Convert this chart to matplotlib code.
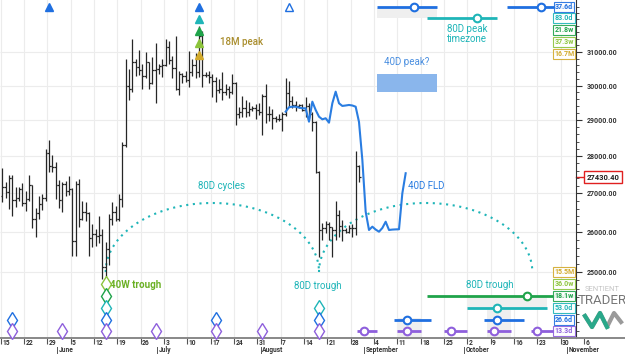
import matplotlib
matplotlib.use("Agg")
import numpy as np
import pandas as pd
import matplotlib.pyplot as plt
import matplotlib.dates as mdates
import matplotlib.transforms as mtransforms
from matplotlib.ticker import FixedLocator, NullFormatter
from matplotlib.patches import Rectangle

plt.rcParams['font.family'] = ['Roboto', 'DejaVu Sans']

# daily OHLC, 2023-05-15 .. 2023-08-30
start = "2023-05-15"
opens = [26920, 27170, 27030, 27400, 26830, 26890, 27120, 26750, 26850, 27230,
         26330, 26480, 26720, 26870, 28090, 27740, 27700, 27220, 26820, 27250,
         27070, 27120, 25760, 27240, 26340, 26500, 26480, 25850, 25940, 25900,
         25920, 25120, 25580, 26330, 26510, 26340, 26850, 28310, 30000, 29890,
         30690, 30550, 30470, 30270, 30700, 30080, 30450, 30480, 30590, 30620,
         31160, 30770, 30510, 29900, 30350, 30290, 30170, 30410, 30620, 30390,
         31480, 30320, 30300, 30250, 30140, 29860, 29910, 29800, 29910, 29800,
         30080, 29180, 29230, 29350, 29220, 29320, 29350, 29280, 29230, 29700,
         29180, 29180, 29070, 29040, 29040, 29180, 29770, 29560, 29430, 29400,
         29420, 29280, 29410, 29170, 28950, 27580, 26050, 26100, 26190, 26120,
         26040, 26430, 26160, 26050, 26010, 26090, 26100, 27720]
highs = [27670, 27290, 27480, 27480, 27180, 27160, 27270, 27050, 27480, 27230,
         26620, 26930, 26990, 28200, 28440, 28030, 27830, 27350, 27300, 27330,
         27450, 27130, 27340, 27390, 26790, 26780, 26520, 26200, 26080, 26400,
         26080, 25740, 26470, 26770, 26680, 26980, 28400, 30800, 30500, 31400,
         30780, 31050, 30650, 31000, 30710, 30840, 31280, 30650, 30790, 31380,
         31320, 30880, 31500, 30440, 30380, 30430, 31030, 30800, 30970, 31800,
         31640, 30390, 30440, 30330, 30240, 30190, 30410, 30050, 29990, 30340,
         30100, 29380, 29690, 29570, 29530, 29410, 29450, 29500, 29740, 30050,
         29410, 29310, 29120, 29170, 29230, 30220, 30130, 29700, 29540, 29470,
         29450, 29670, 29480, 29230, 28980, 27600, 26240, 26290, 26250, 26130,
         26800, 26560, 26310, 26100, 26170, 26210, 28140, 27760]
lows = [26760, 26870, 26590, 26400, 26650, 26800, 26660, 26540, 26800, 26090,
        25870, 26330, 26570, 26800, 27570, 27580, 26850, 26610, 26520, 26920,
        26960, 25400, 25400, 26120, 26310, 26290, 25390, 25620, 25650, 25730,
        24830, 24780, 25170, 26170, 26290, 26270, 26640, 28260, 29570, 29810,
        30270, 30300, 29900, 30230, 29900, 30050, 29500, 30330, 30250, 30590,
        30640, 30220, 29860, 29720, 30060, 30090, 29960, 30290, 30210, 30260,
        29950, 30250, 30080, 29660, 29520, 29770, 29570, 29730, 29640, 29740,
        28870, 29060, 29100, 29090, 29130, 29260, 29040, 29150, 28590, 28930,
        28970, 28750, 28960, 28980, 28700, 29110, 29370, 29340, 29260, 29360,
        29250, 29100, 29070, 28700, 27550, 25370, 25790, 25970, 25800, 25370,
        25800, 25860, 25780, 25970, 25970, 25880, 25920, 27300]
closes = [27170, 27030, 27400, 26830, 26890, 27120, 26750, 26850, 27230, 26330,
          26480, 26720, 26870, 28090, 27740, 27700, 27220, 26820, 27250, 27070,
          27120, 25760, 27240, 26340, 26500, 26480, 25850, 25940, 25900, 25920,
          25120, 25580, 26330, 26510, 26340, 26850, 28310, 30000, 29890, 30690,
          30550, 30470, 30270, 30700, 30080, 30450, 30480, 30590, 30620, 31160,
          30770, 30510, 29900, 30350, 30290, 30170, 30410, 30620, 30390, 31480,
          30320, 30300, 30250, 30140, 29860, 29910, 29800, 29910, 29800, 30080,
          29180, 29230, 29350, 29220, 29320, 29350, 29280, 29230, 29700, 29180,
          29180, 29070, 29040, 29040, 29180, 29770, 29560, 29430, 29400, 29420,
          29280, 29410, 29170, 28950, 27580, 26050, 26100, 26190, 26120, 26040,
          26430, 26160, 26050, 26010, 26090, 26100, 27720, 27430.40]

# 40 day FLD, daily from 2023-08-08
fld_start = "2023-08-08"
fld_values = [29243, 29369, 29385, 29385, 29360, 29340, 29340, 28958, 29530, 29292,
              29100, 29025, 29055, 28930, 29484, 29820, 29484, 29407, 29420, 29435,
              29420, 29385, 28950, 27900, 26520, 26050, 26134, 26060, 26006, 26100,
              26261, 26050, 26060, 26065, 26068, 27000, 27535]

# cycle peaks (top triangles) and troughs (bottom diamonds)
peaks_18m = ["2023-07-13"]
peaks_40w = ["2023-07-13"]
peaks_20w = ["2023-07-13"]
peaks_80d = ["2023-07-13"]
peaks_40d = ["2023-05-29", "2023-07-13"]
peaks_40d_open = ["2023-08-09"]
troughs_40w = ["2023-06-15"]
troughs_20w = ["2023-06-15"]
troughs_80d = ["2023-06-15", "2023-08-18"]
troughs_40d = ["2023-05-18", "2023-06-15", "2023-07-18", "2023-08-18"]
troughs_20d = ["2023-05-18", "2023-06-02", "2023-06-15", "2023-06-30",
               "2023-07-18", "2023-08-01", "2023-08-18"]
arc_troughs = ["2023-06-15", "2023-08-18", "2023-10-21"]

# projected timing bands: (start, end, centre)
top_40d = [("2023-09-05", "2023-09-23", "2023-09-16"), ("2023-10-14", "2023-11-03", "2023-10-24")]
top_80d = [("2023-09-20", "2023-10-11", "2023-10-05")]
bot_20w = [("2023-09-20", "2023-11-03", "2023-10-20")]
bot_80d = [("2023-10-02", "2023-10-26", "2023-10-11")]
bot_40d = [("2023-09-10", "2023-09-21", "2023-09-14"), ("2023-10-07", "2023-10-19", "2023-10-11")]
bot_20d = [("2023-08-30", "2023-09-05", "2023-09-01"), ("2023-09-11", "2023-09-18", "2023-09-14"),
           ("2023-09-25", "2023-10-02", "2023-09-27"), ("2023-10-08", "2023-10-15", "2023-10-10"),
           ("2023-10-21", "2023-10-28", "2023-10-23")]

top_labels = ["37.6d", "83.0d", "21.8w", "37.3w", "16.7M"]
bot_labels = ["15.5M", "36.0w", "18.1w", "53.0d", "26.6d", "13.3d"]
price_ticks = [25000, 26000, 27000, 28000, 29000, 30000, 31000]

BLUE = "#1f6fe0"
TEAL = "#1fb5b8"
GREEN = "#1fa34a"
LGREEN = "#8cc43c"
GOLD = "#d2aa2c"
PURPLE = "#8e5fdc"
H = 338.0


def dn(s):
    return mdates.date2num(pd.Timestamp(s))


def ry(px):
    return 1 - px / H


fig = plt.figure(figsize=(6.25, 3.54), dpi=100)
ax = fig.add_axes([0, 16 / 354, 1, H / 354])
ax.set_yscale("log")
ax.set_ylim(23440, 32615)
x0 = dn(start)
ax.set_xlim(x0 - 0.2, x0 + 187.3)
spine_x = 576 / 625
bt = mtransforms.blended_transform_factory(ax.transData, ax.transAxes)

for s in ["left", "top"]:
    ax.spines[s].set_visible(False)
ax.spines["right"].set_position(("axes", spine_x))
ax.spines["right"].set_color("#333333")
ax.spines["right"].set_linewidth(0.8)
ax.spines["bottom"].set_color("#888888")
ax.spines["bottom"].set_linewidth(1.4)

# grid
weeks = pd.date_range(start, "2023-11-06", freq="7D")
for w in weeks:
    if dn(w) < ax.get_xlim()[0] + spine_x * 187.5:
        ax.axvline(dn(w), color="#ececec", lw=0.8, zorder=0)
ax.hlines(price_ticks, ax.get_xlim()[0], ax.get_xlim()[0] + spine_x * 187.5,
          color="#ececec", lw=0.8, zorder=0)

# y axis on the moved right spine
ax.yaxis.tick_right()
ax.yaxis.set_major_locator(FixedLocator(price_ticks))
minor = [v for v in range(23600, 32600, 200) if v not in price_ticks]
ax.yaxis.set_minor_locator(FixedLocator(minor))
ax.yaxis.set_minor_formatter(NullFormatter())
ax.set_yticklabels(["%.2f" % v for v in price_ticks])
ax.tick_params(axis="y", which="major", length=4, width=0.8, pad=4, labelsize=5,
               colors="#333333")
ax.tick_params(axis="y", which="minor", length=2.5, width=0.6, colors="#333333")
for lab in ax.get_yticklabels():
    lab.set_fontweight("bold")

# x axis ticks: day numbers on one row, month names below
ax.set_xticks([dn(w) for w in weeks])
ax.set_xticklabels([])
ax.tick_params(axis="x", length=4, width=0.8, colors="#555555")
for w in weeks:
    ax.text(dn(w) + 0.4, ry(339), str(w.day), transform=bt, fontsize=4.8, color="#333333",
            ha="left", va="top", fontweight="bold")
for m in pd.date_range("2023-06-01", "2023-11-01", freq="MS"):
    ax.plot([dn(m), dn(m)], [ry(346.5), ry(352.5)], transform=bt, color="#555555", lw=0.7,
            clip_on=False)
    ax.text(dn(m) + 0.5, ry(352), m.strftime("%B"), transform=bt, fontsize=4.8,
            color="#333333", ha="left", va="baseline", fontweight="bold")

# OHLC bars
dates = pd.date_range(start, periods=len(opens), freq="D")
xs = mdates.date2num(dates) + 0.5
bar_c = "#262626"
ax.vlines(xs, lows, highs, color=bar_c, lw=0.9, zorder=3)
ax.hlines(opens, xs - 0.45, xs, color=bar_c, lw=0.9, zorder=3)
ax.hlines(closes, xs, xs + 0.45, color=bar_c, lw=0.9, zorder=3)

# FLD
fld_x = mdates.date2num(pd.date_range(fld_start, periods=len(fld_values), freq="D")) + 0.5
ax.plot(fld_x, fld_values, color="#2a7de1", lw=1.5, zorder=4, solid_joinstyle="round")

# 80D cycle arcs
for a, b in zip(arc_troughs[:-1], arc_troughs[1:]):
    t = np.linspace(np.pi, 0, 80)
    mid, half = (dn(a) + dn(b)) / 2 + 0.5, (dn(b) - dn(a)) / 2
    ax.plot(mid + half * np.cos(t), ry(272) + (69 / H) * np.sin(t), transform=bt,
            color=TEAL, lw=1.5, ls=(0, (1, 2.2)), zorder=2)

# peak triangles
stack = [(peaks_40d, BLUE, 7), (peaks_80d, TEAL, 19), (peaks_20w, GREEN, 31),
         (peaks_40w, LGREEN, 43), (peaks_18m, GOLD, 55)]
for lst, col, py in stack:
    for d in lst:
        ax.plot(dn(d) + 0.5, ry(py), "^", transform=bt, color=col, ms=6, zorder=6)
for d in peaks_40d_open:
    ax.plot(dn(d) + 0.5, ry(7), "^", transform=bt, mfc="white", mec=BLUE, mew=1.0,
            ms=6, zorder=6)

# trough diamonds
rows = [(troughs_40w, LGREEN, 284), (troughs_20w, GREEN, 296), (troughs_80d, TEAL, 308),
        (troughs_40d, BLUE, 320), (troughs_20d, PURPLE, 331)]
for lst, col, py in rows:
    for d in lst:
        ax.plot(dn(d) + 0.5, ry(py), "d", transform=bt, mfc="white", mec=col, mew=1.0,
                ms=8.5, zorder=6, clip_on=False)

# gray timing windows
windows = [(top_40d[0], 8, 18), (bot_80d[0], 297, 310), (bot_20d[1], 318, 337),
           (bot_20d[3], 310, 337)]
for (a, b, _), y1, y2 in windows:
    ax.add_patch(Rectangle((dn(a), ry(y2)), dn(b) - dn(a), (y2 - y1) / H, transform=bt,
                           color="#efefef", zorder=1, lw=0))

# projected bands with centre circles
bands = [(top_40d, BLUE, 7), (top_80d, TEAL, 18), (bot_20w, GREEN, 296),
         (bot_80d, TEAL, 308), (bot_40d, BLUE, 320), (bot_20d, PURPLE, 331)]
for lst, col, py in bands:
    for a, b, c in lst:
        ax.plot([dn(a), dn(b)], [ry(py)] * 2, transform=bt, color=col, lw=2, zorder=5,
                solid_capstyle="butt")
        ax.plot(dn(c), ry(py), "o", transform=bt, mfc="white", mec=col, mew=1.5, ms=5.5,
                zorder=6)

# 40D peak projection box
ax.add_patch(Rectangle((dn("2023-09-05"), ry(92)), dn("2023-09-23") - dn("2023-09-05"),
                       18 / H, transform=bt, color="#8ab6ec", zorder=2, lw=0))

# period labels at right edge
lab_x = 564 / 625
for txt, col, py in zip(top_labels, [BLUE, TEAL, GREEN, LGREEN, GOLD], [7, 18, 30, 42, 54]):
    ax.text(lab_x, ry(py), txt, transform=ax.transAxes, fontsize=5, color=col, ha="center",
            va="center", fontweight="bold", zorder=8,
            bbox=dict(boxstyle="square,pad=0.2", fc="white", ec=col, lw=0.8, alpha=0.9))
for txt, col, py in zip(bot_labels, [GOLD, LGREEN, GREEN, TEAL, BLUE, PURPLE],
                        [272, 284, 296, 308, 320, 331]):
    ax.text(lab_x, ry(py), txt, transform=ax.transAxes, fontsize=5, color=col, ha="center",
            va="center", fontweight="bold", zorder=8,
            bbox=dict(boxstyle="square,pad=0.2", fc="white", ec=col, lw=0.8, alpha=0.9))

# last price tag
last = closes[-1]
yt = mtransforms.blended_transform_factory(ax.transAxes, ax.transData)
ax.plot([spine_x, 583 / 625], [last, last], transform=yt, color="#e02020", lw=1,
        clip_on=False)
ax.text(603 / 625, last, "%.2f" % last, transform=yt, fontsize=5.5, fontweight="bold",
        color="#222222", ha="center", va="center",
        bbox=dict(boxstyle="square,pad=0.3", fc="white", ec="#e02020", lw=1))

# annotations
ax.text(242 / 625, ry(42), "18M peak", transform=ax.transAxes, fontsize=7, color="#a98d2c",
        ha="center", va="center", fontweight="medium")
ax.text(407 / 625, ry(62), "40D peak?", transform=ax.transAxes, fontsize=7, color="#4a8fe0",
        ha="center", va="center")
ax.text(467 / 625, ry(34), "80D peak\ntimezone", transform=ax.transAxes, fontsize=7,
        color=TEAL, ha="center", va="center", linespacing=1.0)
ax.text(222 / 625, ry(186), "80D cycles", transform=ax.transAxes, fontsize=7, color=TEAL,
        ha="center", va="center")
ax.text(426 / 625, ry(186), "40D FLD", transform=ax.transAxes, fontsize=7, color="#2a7de1",
        ha="center", va="center")
ax.text(110 / 625, ry(285), "40W trough", transform=ax.transAxes, fontsize=7, color="#6ab023",
        ha="left", va="center", fontweight="bold")
ax.text(318 / 625, ry(286), "80D trough", transform=ax.transAxes, fontsize=7, color=TEAL,
        ha="center", va="center")
ax.text(490 / 625, ry(285), "80D trough", transform=ax.transAxes, fontsize=7, color=TEAL,
        ha="center", va="center")

# logo
ax.text(602 / 625, ry(289), "SENTIENT", transform=ax.transAxes, fontsize=5.5,
        color="#c4c4c4", ha="center", va="center")
ax.text(602 / 625, ry(301), "TRADER", transform=ax.transAxes, fontsize=9.5,
        color="#777777", ha="center", va="center")
zx = np.array([585, 592, 600, 607, 614, 621]) / 625
zy = np.array([ry(316), ry(327), ry(313), ry(327), ry(313), ry(322)])
ax.plot(zx, zy, transform=ax.transAxes, color="#9a9a9a", lw=3, clip_on=False)
ax.plot(zx[:4], zy[:4], transform=ax.transAxes, color="#2aa88a", lw=3, clip_on=False)

fig.savefig("out.png", dpi=100)
